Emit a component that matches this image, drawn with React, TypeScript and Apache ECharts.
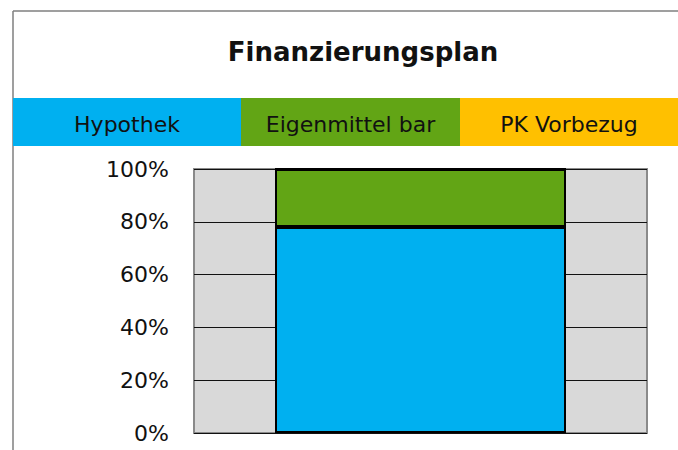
import React, { useEffect, useRef } from "react";
import * as echarts from "echarts";

const categories = ["Finanzierung"];
const seriesNames = ["Hypothek", "Eigenmittel bar", "PK Vorbezug"];
const hypothekValues = [0.78];
const eigenmittelValues = [0.22];
const pkValues = [0];
const colors = ["#00B0F0", "#62A515", "#FFC000"];
const yTicks = [0, 0.2, 0.4, 0.6, 0.8, 1];

const FONT = "'DejaVu Sans', sans-serif";

export default function App() {
  const ref = useRef<HTMLDivElement>(null);
  useEffect(() => {
    if (!ref.current) return;
    const chart = echarts.init(ref.current, null, { renderer: "svg" });
    const legendX = [13, 241, 460, 678];
    const graphic: any[] = [
      { type: "line", shape: { x1: 13, y1: 11, x2: 678, y2: 11 }, style: { stroke: "#7f7f7f", lineWidth: 1.5 } },
      { type: "line", shape: { x1: 13, y1: 11, x2: 13, y2: 450 }, style: { stroke: "#7f7f7f", lineWidth: 1.5 } },
      {
        type: "text",
        x: 363,
        y: 52,
        style: { text: "Finanzierungsplan", font: `bold 26px ${FONT}`, fill: "#111", align: "center", verticalAlign: "middle" },
      },
    ];
    seriesNames.forEach((n, i) => {
      graphic.push({
        type: "rect",
        shape: { x: legendX[i], y: 98, width: legendX[i + 1] - legendX[i], height: 48 },
        style: { fill: colors[i] },
      });
      graphic.push({
        type: "text",
        x: (legendX[i] + legendX[i + 1]) / 2,
        y: 124,
        style: { text: n, font: `22px ${FONT}`, fill: "#111", align: "center", verticalAlign: "middle" },
      });
    });
    const mk = (name: string, data: number[], color: string) => ({
      name,
      type: "bar",
      stack: "total",
      data,
      barWidth: 291,
      itemStyle: { color, borderColor: "#000", borderWidth: 2 },
    });
    chart.setOption({
      animation: false,
      grid: {
        left: 194,
        right: 31,
        top: 169,
        bottom: 17,
        show: true,
        backgroundColor: "#d9d9d9",
        borderColor: "#8a8a8a",
        borderWidth: 2,
      },
      xAxis: {
        type: "category",
        data: categories,
        axisLine: { show: false },
        axisTick: { show: false },
        axisLabel: { show: false },
      },
      yAxis: {
        type: "value",
        min: yTicks[0],
        max: yTicks[yTicks.length - 1],
        interval: 0.2,
        axisLine: { show: false },
        axisTick: { show: false },
        splitLine: { lineStyle: { color: "#111", width: 1 } },
        axisLabel: {
          margin: 25,
          fontSize: 22,
          fontFamily: FONT,
          color: "#111",
          formatter: (v: number) => `${Math.round(v * 100)}%`,
        },
      },
      series: [
        mk(seriesNames[0], hypothekValues, colors[0]),
        mk(seriesNames[1], eigenmittelValues, colors[1]),
        mk(seriesNames[2], pkValues, colors[2]),
      ],
      graphic,
    });
    return () => chart.dispose();
  }, []);
  return (
    <div
      ref={ref}
      style={{ position: "fixed", left: 0, top: 0, width: 678, height: 450, background: "#fff" }}
    />
  );
}
